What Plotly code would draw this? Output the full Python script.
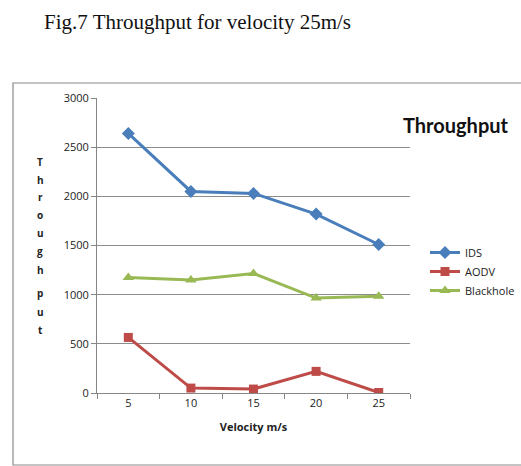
import plotly.graph_objects as go

velocity = ["5", "10", "15", "20", "25"]
ids = [2640, 2050, 2030, 1820, 1510]
aodv = [565, 50, 40, 220, 5]
blackhole = [1175, 1150, 1215, 965, 985]
ytitle = "Throughput"

W, H = 521, 466
L, R, T, B = 97, 410, 98, 393
pw, ph = R - L, B - T

def px(x):
    return (x - L) / pw

def py(y):
    return (B - y) / ph

fig = go.Figure()
fig.add_trace(go.Scatter(x=velocity, y=ids, name="IDS", mode="lines+markers",
                         line=dict(color="#4A7EBB", width=3),
                         marker=dict(symbol="diamond", size=10, color="#4A7EBB")))
fig.add_trace(go.Scatter(x=velocity, y=aodv, name="AODV", mode="lines+markers",
                         line=dict(color="#BE4B48", width=3),
                         marker=dict(symbol="square", size=9, color="#BE4B48")))
fig.add_trace(go.Scatter(x=velocity, y=blackhole, name="Blackhole", mode="lines+markers",
                         line=dict(color="#98B954", width=3),
                         marker=dict(symbol="triangle-up", size=10, color="#98B954")))

font = "Open Sans, Liberation Sans, sans-serif"

letter_y = [162, 180, 197, 215, 233, 251, 270, 293, 312, 330]
annotations = [
    dict(text="Fig.7 Throughput for velocity 25m/s", xref="paper", yref="paper",
         x=px(42), y=py(22), xanchor="left", yanchor="middle", showarrow=False,
         font=dict(family="Liberation Serif, Times New Roman, serif", size=21, color="#111")),
    dict(text="<b>Throughput</b>", xref="paper", yref="paper",
         x=px(456), y=py(125), xanchor="center", yanchor="middle", showarrow=False,
         font=dict(family="Lato, Open Sans, sans-serif", size=20, color="#111")),
]
for ch, yy in zip(ytitle, letter_y):
    annotations.append(dict(text="<b>%s</b>" % ch, xref="paper", yref="paper",
                            x=px(40), y=py(yy), xanchor="center", yanchor="middle",
                            showarrow=False, font=dict(family=font, size=10, color="#222")))

fig.update_layout(
    width=W, height=H,
    margin=dict(l=L, r=W - R, t=T, b=H - B, autoexpand=False),
    paper_bgcolor="white", plot_bgcolor="white",
    showlegend=True,
    legend=dict(x=px(425), y=py(238), xanchor="left", yanchor="top",
                font=dict(family=font, size=11, color="#222"),
                bgcolor="rgba(0,0,0,0)", tracegroupgap=0, itemwidth=30),
    xaxis=dict(type="category", range=[-0.5, 4.5], tickson="boundaries",
               ticks="outside", ticklen=5, tickcolor="#868686",
               showline=True, linecolor="#868686", linewidth=1,
               showgrid=False, zeroline=False,
               tickfont=dict(family=font, size=11, color="#222"),
               title=dict(text="<b>Velocity m/s</b>", standoff=14,
                          font=dict(family=font, size=11, color="#222"))),
    yaxis=dict(range=[0, 3000], dtick=500, ticks="outside", ticklen=5,
               tickcolor="#868686", showline=True, linecolor="#868686",
               showgrid=True, gridcolor="#8c8c8c", gridwidth=1, zeroline=False,
               tickfont=dict(family=font, size=11, color="#222")),
    shapes=[dict(type="rect", xref="paper", yref="paper",
                 x0=px(13), x1=px(530), y0=py(465), y1=py(83),
                 line=dict(color="#8a8a8a", width=1.2), layer="below")],
    annotations=annotations,
)

fig.write_html("out.html")
